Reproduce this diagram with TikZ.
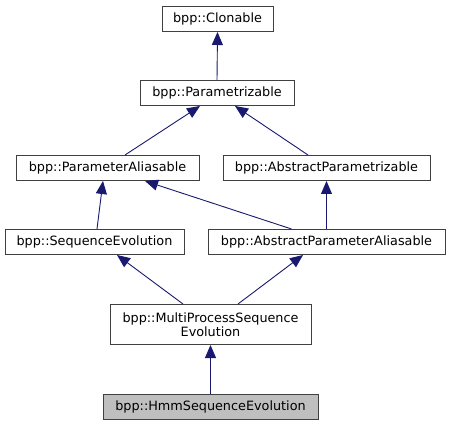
\documentclass[tikz,border=0pt]{standalone}
\usepackage{fontspec}
\setmainfont{DejaVu Sans}
\usetikzlibrary{arrows.meta}
\definecolor{edgeblue}{RGB}{25,25,112}
\definecolor{leafgray}{RGB}{191,191,191}

\begin{document}
\begin{tikzpicture}[x=1pt,y=-1pt,
  cls/.style={draw=black!75,line width=1pt,minimum height=25pt,inner sep=0pt,
    font=\fontsize{12.8}{14.5}\selectfont,align=center},
  inh/.style={edgeblue,line width=0.9pt,-{Triangle[length=13pt,width=11pt]}}]
\useasboundingbox (0,0) rectangle (450,425);
\node[cls,minimum width=111pt] (clon) at (217.5,19) {bpp::Clonable};
\node[cls,minimum width=154pt] (pz) at (217,93) {bpp::Parametrizable};
\node[cls,minimum width=183pt] (pal) at (107.5,168) {bpp::ParameterAliasable};
\node[cls,minimum width=207pt] (apz) at (326.5,168) {bpp::AbstractParametrizable};
\node[cls,minimum width=179pt] (seq) at (94.5,242) {bpp::SequenceEvolution};
\node[cls,minimum width=237pt] (apal) at (326.5,242) {bpp::AbstractParameterAliasable};
\node[cls,minimum width=201pt,minimum height=40pt] (mpse) at (210.5,324.5) {bpp::MultiProcessSequence\\Evolution};
\node[cls,fill=leafgray,minimum width=215pt] (hmm) at (210.5,407) {bpp::HmmSequenceEvolution};
\draw[inh] (pz.north) -- (clon.south);
\draw[inh] ([xshift=17.5pt]pal.north) -- ([xshift=-17pt]pz.south);
\draw[inh] ([xshift=-18.5pt]apz.north) -- ([xshift=18pt]pz.south);
\draw[inh] ([xshift=2.5pt]seq.north) -- ([xshift=-4.5pt]pal.south);
\draw[inh] ([xshift=-35pt]apal.north) -- ([xshift=37.5pt]pal.south);
\draw[inh] (apal.north) -- (apz.south);
\draw[inh] ([xshift=-27.5pt]mpse.north) -- ([xshift=22.5pt]seq.south);
\draw[inh] ([xshift=27.5pt]mpse.north) -- ([xshift=-23.5pt]apal.south);
\draw[inh] (hmm.north) -- (mpse.south);
\end{tikzpicture}
\end{document}
